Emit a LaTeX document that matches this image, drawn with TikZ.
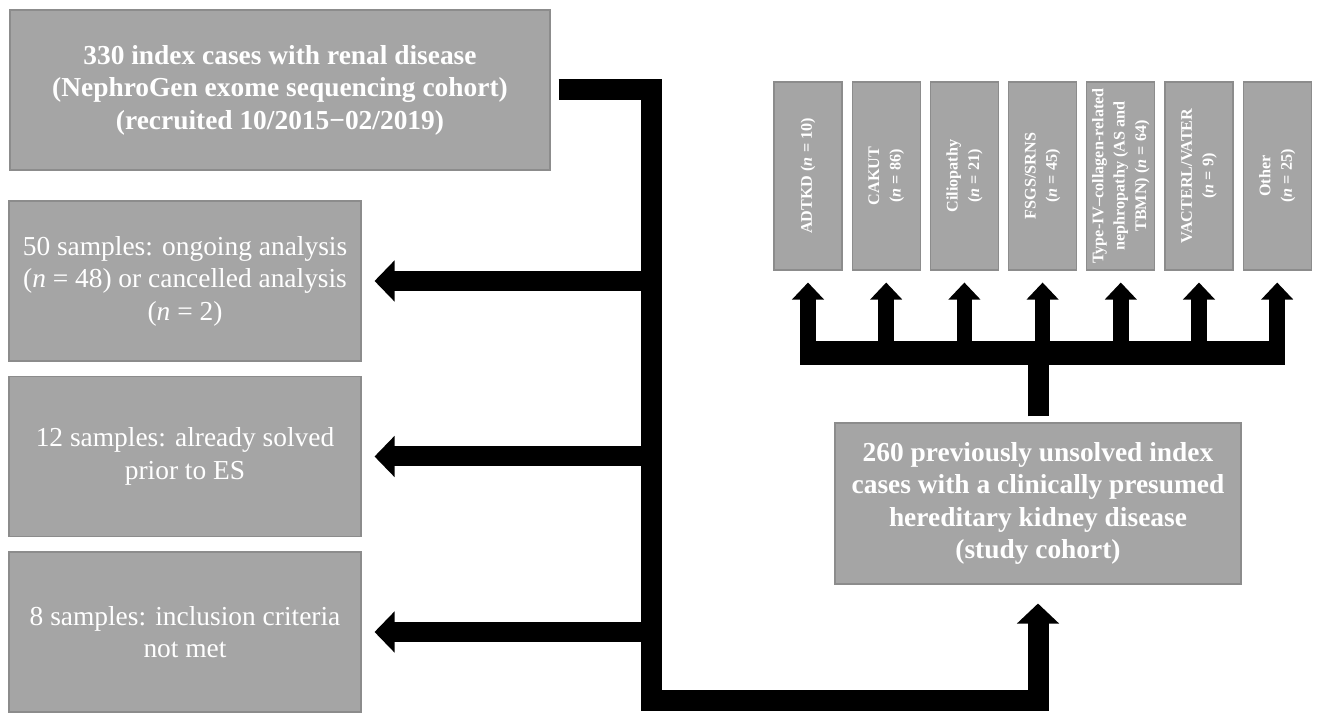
\documentclass[tikz,border=0pt]{standalone}
\usepackage{fontspec}
\setmainfont{Liberation Serif}
\usepackage{tikz}
\usetikzlibrary{arrows.meta, positioning}
\definecolor{boxgray}{HTML}{A5A5A5}
\definecolor{edgegray}{HTML}{8C8C8C}
\tikzstyle{arrow} = [line width=0.4cm,line join=miter,-{Triangle[length=0.4cm,width=0.8cm]}]
\tikzstyle{main arrow} = [line width=0.42cm,line join=miter,-{Triangle[length=0.4cm,width=0.82cm]}]
\tikzstyle{small arrow} = [line width=0.31cm,-{Triangle[length=0.34cm,width=0.62cm]}]

\begin{document}
\begin{tikzpicture}[node distance=3.51cm,
			main node/.style={rectangle, fill=boxgray, draw=edgegray, line width=0.6pt, text=white, align=center, font=\fontsize{15.6}{18.5}\selectfont},
			bold node/.style={main node, font=\fontsize{15.6}{18.5}\selectfont\bfseries},
			group/.style={main node, on grid, rotate=90, minimum width=3.76cm, minimum height=1.36cm, inner sep=1pt, font=\fontsize{9.2}{12.2}\selectfont\bfseries}]
			
			\useasboundingbox[fill=white] (0,0) rectangle (26.34,14.26);
			
			\node[bold node, minimum width=10.8cm, minimum height=3.2cm] (1) at (5.6,12.46) {330 index cases with renal disease\\(NephroGen exome sequencing cohort)\\(recruited 10/2015−02/2019)};
			
			\node[main node, minimum width=7.04cm, minimum height=3.2cm] (2) at (3.7,8.64) {50 samples: ongoing analysis\\(\textit{n} = 48) or cancelled analysis\\(\textit{n} = 2)};
			\node[main node, minimum width=7.04cm, minimum height=3.2cm] (3) [below of=2] {12 samples: already solved\\prior to ES};
			\node[main node, minimum width=7.04cm, minimum height=3.2cm] (4) [below of=3] {8 samples: inclusion criteria\\not met};
			
			\node[bold node, minimum width=8.12cm, minimum height=3.22cm] (5) at (20.76,4.19) {260 previously unsolved index\\cases with a clinically presumed\\hereditary kidney disease\\(study cohort)};
			
			\node[group] (A) at (16.16,10.74) {ADTKD (\textit{n} = 10)};
			\node[group, right=1.564cm of A] (B) {CAKUT\\(\textit{n} = 86)};
			\node[group, right=1.564cm of B] (C) {Ciliopathy\\(\textit{n} = 21)};
			\node[group, right=1.564cm of C] (D) {FSGS/SRNS\\(\textit{n} = 45)};
			\node[group, right=1.564cm of D] (E) {Type-IV–collagen-related\\nephropathy (AS and\\TBMN) (\textit{n} = 64)};
			\node[group, right=1.564cm of E] (F) {VACTERL/VATER\\(\textit{n} = 9)};
			\node[group, right=1.564cm of F] (G) {Other\\(\textit{n} = 25)};
			
			% cohort down and round to the study cohort
			\coordinate (turn) at (13.03,0.24);
			\draw[main arrow] ([xshift=0.16cm]1.east) -| (turn) -| ([yshift=-0.38cm]5.south);
			
			\draw[arrow] (turn |- 2.east) -- ([xshift=0.26cm]2.east);
			\draw[arrow] (turn |- 3.east) -- ([xshift=0.26cm]3.east);
			\draw[arrow] (turn |- 4.east) -- ([xshift=0.26cm]4.east);
			
			% split into the groups
			\coordinate (hub) at ([yshift=1.38cm]5.north);
			\draw[line width=0.42cm] ([yshift=0.12cm]5.north) -- (hub);
			\draw[line width=0.48cm] ([xshift=-0.155cm]A.center |- hub) -- ([xshift=0.155cm]G.center |- hub);
			
			\draw[small arrow] (A.center |- hub) -- ([yshift=-0.24cm]A.west);
			\draw[small arrow] (B.center |- hub) -- ([yshift=-0.24cm]B.west);
			\draw[small arrow] (C.center |- hub) -- ([yshift=-0.24cm]C.west);
			\draw[small arrow] (D.center |- hub) -- ([yshift=-0.24cm]D.west);
			\draw[small arrow] (E.center |- hub) -- ([yshift=-0.24cm]E.west);
			\draw[small arrow] (F.center |- hub) -- ([yshift=-0.24cm]F.west);
			\draw[small arrow] (G.center |- hub) -- ([yshift=-0.24cm]G.west);
			
\end{tikzpicture}
\end{document}
